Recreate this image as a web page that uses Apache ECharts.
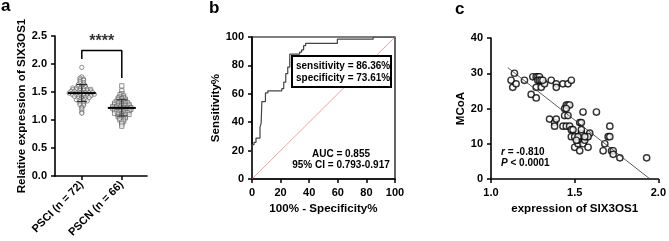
<!DOCTYPE html>
<html>
<head>
<meta charset="utf-8">
<script src="https://cdn.jsdelivr.net/npm/echarts@6.0.0/dist/echarts.min.js"></script>
<style>
  html, body { margin: 0; padding: 0; background: #fff; }
  #chart { width: 669px; height: 241px; }
</style>
</head>
<body>
<div id="chart"></div>
<script>
// panel a: relative expression of SIX3OS1
const groups = ['PSCI (n = 72)', 'PSCN (n = 66)']
const psci = [1.94, 1.77, 1.75, 1.73, 1.72, 1.71, 1.69, 1.67, 1.66,
  1.64, 1.63, 1.62, 1.61, 1.60,
  1.59, 1.58, 1.57, 1.57, 1.56, 1.56, 1.55, 1.55,
  1.54, 1.54, 1.53, 1.53, 1.52, 1.52, 1.51, 1.51, 1.50, 1.50,
  1.49, 1.49, 1.49, 1.48, 1.48, 1.48, 1.48, 1.47, 1.47, 1.46, 1.46, 1.45, 1.45,
  1.44, 1.44, 1.43, 1.43, 1.42, 1.42, 1.41, 1.40, 1.40,
  1.39, 1.38, 1.37, 1.36, 1.36, 1.35,
  1.34, 1.33, 1.31, 1.30,
  1.29, 1.27, 1.26, 1.23, 1.21, 1.18, 1.14, 1.12]
const pscn = [1.61, 1.52, 1.47, 1.45, 1.43, 1.41, 1.40,
  1.39, 1.38, 1.37, 1.36, 1.35,
  1.34, 1.33, 1.33, 1.32, 1.31, 1.30, 1.30,
  1.29, 1.28, 1.28, 1.27, 1.26, 1.26, 1.25, 1.25,
  1.24, 1.23, 1.23, 1.22, 1.22, 1.22, 1.21, 1.21, 1.20, 1.20, 1.20,
  1.19, 1.18, 1.18, 1.17, 1.16, 1.16, 1.15, 1.15,
  1.14, 1.13, 1.12, 1.12, 1.11, 1.10, 1.10,
  1.09, 1.08, 1.07, 1.06, 1.05,
  1.04, 1.03, 1.01, 1.00, 0.98, 0.96, 0.93, 0.89]
const bracketY = 2.24
const bracketLegs = [2.09, 1.75]

// panel b: ROC curve (100% - specificity, sensitivity)
const rocFpr = [0, 0, 1.4, 1.4, 2.8, 2.8, 5.6, 5.6, 6.4, 6.4, 6.9, 6.9, 9.4, 9.4,
  11.1, 11.1, 20.8, 20.8, 22.2, 22.2, 23.6, 23.6, 25.0, 25.0, 26.4, 26.4,
  33.3, 33.3, 34.7, 34.7, 36.1, 36.1, 37.5, 37.5, 59.7, 59.7, 84.7, 84.7, 100]
const rocTpr = [0, 24.2, 24.2, 25.8, 25.8, 28.8, 28.8, 36.4, 36.4, 39.4, 39.4, 54.5, 54.5,
  60.6, 60.6, 62.1, 62.1, 63.6, 63.6, 68.2, 68.2, 74.2, 74.2, 78.8, 78.8,
  87.9, 87.9, 89.4, 89.4, 90.9, 90.9, 93.9, 93.9, 95.5, 95.5, 98.5, 98.5, 100, 100]

// panel c: MCoA vs expression of SIX3OS1
const corrX = [1.12, 1.14, 1.13, 1.15, 1.20, 1.24, 1.27, 1.25, 1.27, 1.28, 1.29, 1.28,
  1.29, 1.30, 1.27, 1.30, 1.32, 1.31, 1.36, 1.39, 1.39, 1.43, 1.46, 1.48,
  1.35, 1.38, 1.39, 1.38, 1.43, 1.45, 1.44, 1.44, 1.45, 1.46, 1.47, 1.46,
  1.45, 1.47, 1.48, 1.49, 1.48, 1.50, 1.50, 1.52, 1.52, 1.53, 1.54, 1.53,
  1.54, 1.55, 1.53, 1.55, 1.56, 1.57, 1.58, 1.59, 1.58, 1.54, 1.52, 1.51,
  1.63, 1.67, 1.68, 1.71, 1.70, 1.71, 1.72, 1.73, 1.73, 1.77, 1.93, 1.56]
const corrY = [28, 30, 26, 27, 28, 24, 23, 29, 29, 29, 29, 28,
  28, 28, 26, 26, 27, 28, 28, 27, 26, 27, 27, 28,
  17, 16, 17, 15, 15, 15, 18, 20, 21, 21, 21, 18,
  20, 15, 14, 14, 12, 12, 9, 10, 11, 12, 13, 16,
  16, 19, 8, 10, 11, 12, 9, 13, 12, 14, 12, 11,
  19, 8, 10, 15, 12, 12, 8, 8, 7, 6, 6, 12]
const fitX = [1.10, 1.95]
const fitY = [31.6, 0]

const FONT = '"Liberation Sans", Arial, Helvetica, sans-serif'

function swarm(vals, center, rowH, step) {
  const bins = new Map()
  vals.forEach(v => {
    const k = Math.round(v / rowH)
    if (!bins.has(k)) bins.set(k, [])
    bins.get(k).push(v)
  })
  const pts = []
  bins.forEach(arr => {
    arr.forEach((v, i) => pts.push([center + (i - (arr.length - 1) / 2) * step, v]))
  })
  return pts
}

function meanSd(vals) {
  const m = vals.reduce((s, v) => s + v, 0) / vals.length
  const sd = Math.sqrt(vals.reduce((s, v) => s + (v - m) * (v - m), 0) / (vals.length - 1))
  return [m, sd]
}

function seg(points, width, color, xi, yi, extra) {
  return Object.assign({
    type: 'line',
    xAxisIndex: xi,
    yAxisIndex: yi,
    data: points,
    symbol: 'none',
    silent: true,
    lineStyle: { color: color || '#000', width: width },
    z: 5
  }, extra || {})
}

function axisBase(extra) {
  return Object.assign({
    type: 'value',
    splitLine: { show: false },
    axisLine: { show: true, onZero: false, lineStyle: { color: '#000', width: 1.6 } },
    axisTick: { show: true, length: 4, lineStyle: { color: '#000', width: 1.5 } },
    axisLabel: { color: '#000', fontWeight: 'bold', fontSize: 11, fontFamily: FONT, margin: 8 },
    nameTextStyle: { color: '#000', fontWeight: 'bold', fontSize: 11.6, fontFamily: FONT },
    nameLocation: 'middle'
  }, extra)
}

let series = []

// panel a dots
const groupVals = [psci, pscn]
const groupSymbols = ['circle', 'rect']
groupVals.forEach((vals, g) => {
  const c = g + 1
  series.push({
    type: 'scatter',
    xAxisIndex: 0,
    yAxisIndex: 0,
    data: swarm(vals, c, 0.03, 0.09),
    symbol: groupSymbols[g],
    symbolSize: 4.3,
    itemStyle: { color: 'rgba(255,255,255,0.7)', borderColor: '#555', borderWidth: 0.8 },
    silent: true,
    z: 3
  })
  const [m, sd] = meanSd(vals)
  series.push(seg([[c - 0.35, m], [c + 0.35, m]], 2, '#000', 0, 0))
  series.push(seg([[c, m - sd], [c, m + sd]], 1, '#222', 0, 0))
  series.push(seg([[c - 0.13, m - sd], [c + 0.13, m - sd]], 1, '#222', 0, 0))
  series.push(seg([[c - 0.13, m + sd], [c + 0.13, m + sd]], 1, '#222', 0, 0))
})
// significance bracket
series.push(seg([[1, bracketLegs[0]], [1, bracketY], [2, bracketY], [2, bracketLegs[1]]], 1.5, '#000', 0, 0))
series.push({
  type: 'scatter',
  xAxisIndex: 0,
  yAxisIndex: 0,
  data: [[1.5, bracketY]],
  symbolSize: 0,
  silent: true,
  label: {
    show: true, position: 'top', distance: 1, formatter: '****',
    color: '#000', fontWeight: 'bold', fontSize: 16, fontFamily: FONT
  }
})

// panel b
series.push(seg([[0, 0], [100, 100]], 0.8, '#f08a8a', 1, 1, { z: 2 }))
series.push(seg(rocFpr.map((x, i) => [x, rocTpr[i]]), 1.2, '#444', 1, 1))

// panel c
series.push({
  type: 'scatter',
  xAxisIndex: 2,
  yAxisIndex: 2,
  data: corrX.map((x, i) => [x, corrY[i]]),
  symbol: 'circle',
  symbolSize: 6.3,
  itemStyle: { color: '#fff', borderColor: '#000', borderWidth: 1.4 },
  silent: true,
  z: 3
})
series.push(seg(fitX.map((x, i) => [x, fitY[i]]), 0.8, '#333', 2, 2, { z: 4 }))

const option = {
  animation: false,
  backgroundColor: '#fff',
  grid: [
    { left: 55, top: 36, width: 92, height: 140 },
    { left: 252, top: 37, width: 143, height: 142, show: true, borderColor: '#000', borderWidth: 1.2, backgroundColor: 'transparent' },
    { left: 491, top: 38, width: 170, height: 141 }
  ],
  xAxis: [
    axisBase({
      gridIndex: 0, min: 0.33, max: 2.63,
      axisTick: { show: true, length: 4, customValues: [1, 2], lineStyle: { color: '#000', width: 1.5 } },
      axisLabel: {
        customValues: [1, 2], rotate: 45, margin: 7,
        formatter: v => groups[Math.round(v) - 1],
        color: '#000', fontWeight: 'bold', fontSize: 11, fontFamily: FONT
      }
    }),
    axisBase({
      gridIndex: 1, min: 0, max: 100, interval: 20,
      name: '100% - Specificity%', nameGap: 24
    }),
    axisBase({
      gridIndex: 2, min: 1, max: 2, interval: 0.5,
      name: 'expression of SIX3OS1', nameGap: 24,
      axisLabel: { color: '#000', fontWeight: 'bold', fontSize: 11, fontFamily: FONT, margin: 8, formatter: v => v.toFixed(1) }
    })
  ],
  yAxis: [
    axisBase({
      gridIndex: 0, min: 0, max: 2.5, interval: 0.5,
      name: 'Relative expression of SIX3OS1', nameGap: 27,
      axisLabel: { color: '#000', fontWeight: 'bold', fontSize: 11, fontFamily: FONT, margin: 8, formatter: v => v.toFixed(1) }
    }),
    axisBase({
      gridIndex: 1, min: 0, max: 100, interval: 20,
      name: 'Sensitivity%', nameGap: 29
    }),
    axisBase({
      gridIndex: 2, min: 0, max: 40, interval: 10,
      name: 'MCoA', nameGap: 24
    })
  ],
  series: series,
  graphic: [
    { type: 'text', left: 1, top: -2, style: { text: 'a', font: 'bold 17px ' + FONT, fill: '#000' } },
    { type: 'text', left: 209, top: 0, style: { text: 'b', font: 'bold 17px ' + FONT, fill: '#000' } },
    { type: 'text', left: 455, top: 1, style: { text: 'c', font: 'bold 17px ' + FONT, fill: '#000' } },
    {
      type: 'rect', shape: { x: 292, y: 56, width: 99, height: 31 },
      style: { fill: '#fff', stroke: '#000', lineWidth: 2 }, z: 10
    },
    {
      type: 'text', x: 296, y: 60, z: 11,
      style: { text: 'sensitivity = 86.36%\nspecificity = 73.61%', font: 'bold 10px ' + FONT, fill: '#000', lineHeight: 12 }
    },
    {
      type: 'text', x: 341, y: 149, z: 11,
      style: { text: 'AUC = 0.855', font: 'bold 10px ' + FONT, fill: '#000', align: 'center' }
    },
    {
      type: 'text', x: 341, y: 160, z: 11,
      style: { text: '95% CI = 0.793-0.917', font: 'bold 10px ' + FONT, fill: '#000', align: 'center' }
    },
    {
      type: 'text', x: 501, y: 147, z: 11,
      style: {
        text: '{i|r} = -0.810\n{i|P} < 0.0001',
        font: 'bold 10px ' + FONT, fill: '#000', lineHeight: 11,
        rich: { i: { fontStyle: 'italic', fontWeight: 'bold', fontSize: 10, fontFamily: FONT, fill: '#000' } }
      }
    }
  ]
}

echarts.init(document.getElementById('chart'), null, { renderer: 'canvas' }).setOption(option)
</script>
</body>
</html>
